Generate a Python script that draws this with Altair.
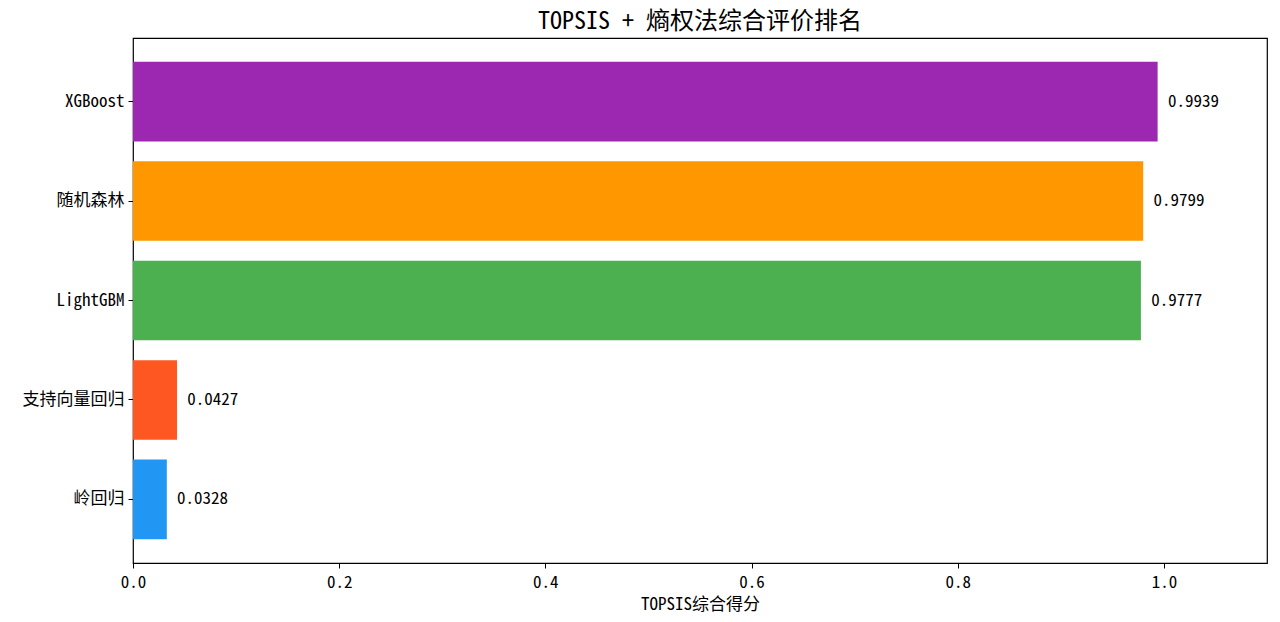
import altair as alt
import pandas as pd

models = ["XGBoost", "随机森林", "LightGBM", "支持向量回归", "岭回归"]
scores = [0.9939, 0.9799, 0.9777, 0.0427, 0.0328]
colors = ["#9C27B0", "#FF9800", "#4CAF50", "#FF5722", "#2196F3"]

df = pd.DataFrame({"model": models, "score": scores})

FONT = "Noto Sans Mono CJK SC, Noto Sans CJK SC, DejaVu Sans Mono"

y = alt.Y("model:N", sort=models, title=None,
          scale=alt.Scale(paddingInner=0.2, paddingOuter=0.24),
          axis=alt.Axis(labelFont=FONT, labelFontSize=17, labelColor="black",
                        tickColor="black", tickSize=5, domain=False, labelPadding=4))
x = alt.X("score:Q", title="TOPSIS综合得分",
          scale=alt.Scale(domain=[0, 1.1], nice=False),
          axis=alt.Axis(values=[0, 0.2, 0.4, 0.6, 0.8, 1.0], format=".1f",
                        labelFont=FONT, labelFontSize=17, labelColor="black",
                        labelFlush=False, labelPadding=6,
                        titleFont=FONT, titleFontSize=17, titleFontWeight="normal",
                        titleColor="black", tickColor="black", tickSize=5,
                        domain=False, grid=False, titlePadding=6))

bars = alt.Chart(df).mark_bar().encode(
    x=x, y=y,
    color=alt.Color("model:N", scale=alt.Scale(domain=models, range=colors), legend=None),
)

labels = alt.Chart(df).transform_calculate(
    pos="datum.score + 0.01"
).mark_text(align="left", baseline="middle", font=FONT, fontSize=17, color="black").encode(
    x=alt.X("pos:Q"),
    y=alt.Y("model:N", sort=models),
    text=alt.Text("score:Q", format=".4f"),
)

chart = (bars + labels).properties(
    width=1134, height=525,
    title=alt.Title("TOPSIS + 熵权法综合评价排名", font=FONT, fontSize=24,
                    fontWeight="normal", color="black", offset=4),
    autosize=alt.AutoSizeParams(type="none"),
    padding={"left": 125, "top": 30, "right": 5, "bottom": 50},
).configure_view(stroke="black", strokeWidth=1.2)

chart.save("out.html", embed_options={"renderer": "svg", "actions": False})
